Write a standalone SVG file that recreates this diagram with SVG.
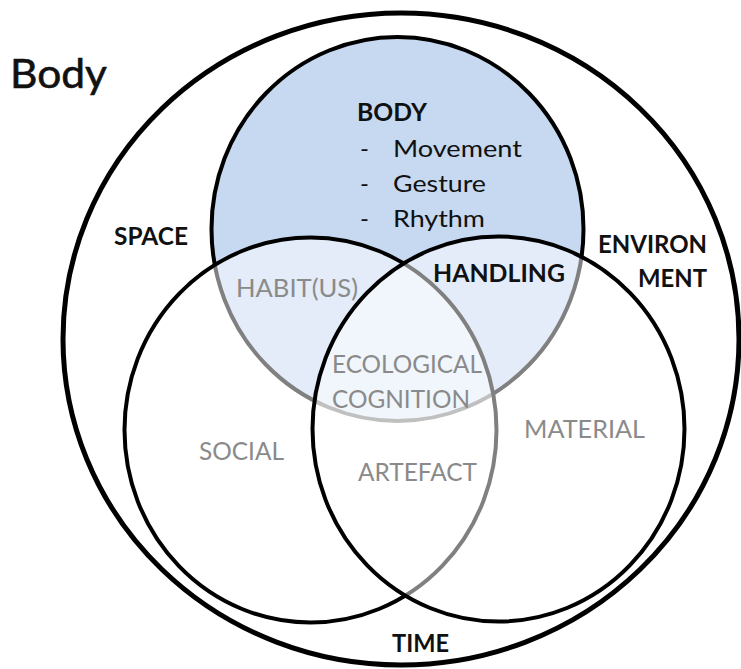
<svg xmlns="http://www.w3.org/2000/svg" width="741" height="669" viewBox="0 0 741 669">
  <style>
    .ring { fill: none; stroke: #000; stroke-width: 5; }
    .set { stroke: #000; stroke-width: 4; }
    .veil { fill: #fff; fill-opacity: 0.5; }
    text { font-family: Lato, "Liberation Sans", sans-serif; }
    .dark { fill: #111; }
    .soft { fill: #8a8a8a; }
    .bold { font-weight: bold; }
  </style>

  <rect width="741" height="669" fill="#fff"/>

  <!-- outer frame -->
  <g id="frame">
    <ellipse class="ring" cx="401" cy="339" rx="338" ry="326"/>
    <text x="10" y="88" font-size="40" class="dark" textLength="97" lengthAdjust="spacingAndGlyphs" stroke="#111" stroke-width="0.6">Body</text>
    <text x="114" y="245" font-size="25" class="dark bold" textLength="74" lengthAdjust="spacingAndGlyphs">SPACE</text>
    <text x="598" y="253" font-size="25" class="dark bold" textLength="109" lengthAdjust="spacingAndGlyphs">ENVIRON</text>
    <text x="638" y="287" font-size="25" class="dark bold" textLength="69" lengthAdjust="spacingAndGlyphs">MENT</text>
    <text x="392" y="652" font-size="25" class="dark bold" textLength="57" lengthAdjust="spacingAndGlyphs">TIME</text>
  </g>

  <!-- body set -->
  <g id="body">
    <ellipse class="set" cx="397.5" cy="229" rx="186" ry="192" fill="#c6d9f0"/>
  </g>

  <!-- social set, half-transparent so what lies below shows through -->
  <g id="social">
    <ellipse class="set veil" cx="310.5" cy="430" rx="186" ry="192.5"/>
  </g>

  <!-- material set -->
  <g id="material">
    <ellipse class="set veil" cx="498.5" cy="429" rx="186" ry="192.5"/>
  </g>

  <!-- labels -->
  <g id="body-label">
    <text x="357" y="121" font-size="25" class="dark bold" textLength="70" lengthAdjust="spacingAndGlyphs">BODY</text>
    <text x="360" y="157" font-size="24" class="dark">-</text>
    <text x="393" y="157" font-size="24" class="dark" textLength="129" lengthAdjust="spacingAndGlyphs">Movement</text>
    <text x="360" y="192" font-size="24" class="dark">-</text>
    <text x="393" y="192" font-size="24" class="dark" textLength="93" lengthAdjust="spacingAndGlyphs">Gesture</text>
    <text x="360" y="227" font-size="24" class="dark">-</text>
    <text x="393" y="227" font-size="24" class="dark" textLength="92" lengthAdjust="spacingAndGlyphs">Rhythm</text>
  </g>
  <g id="habitus">
    <text x="236" y="297" font-size="25" class="soft" textLength="122" lengthAdjust="spacingAndGlyphs">HABIT(US)</text>
  </g>
  <g id="handling">
    <text x="433" y="282" font-size="25" class="dark bold" textLength="132" lengthAdjust="spacingAndGlyphs">HANDLING</text>
  </g>
  <g id="ecological-cognition">
    <text x="332" y="373" font-size="25" class="soft" textLength="150" lengthAdjust="spacingAndGlyphs">ECOLOGICAL</text>
    <text x="332" y="408" font-size="25" class="soft" textLength="138" lengthAdjust="spacingAndGlyphs">COGNITION</text>
  </g>
  <g id="social-label">
    <text x="199" y="460" font-size="25" class="soft" textLength="85" lengthAdjust="spacingAndGlyphs">SOCIAL</text>
  </g>
  <g id="artefact">
    <text x="358" y="481" font-size="25" class="soft" textLength="119" lengthAdjust="spacingAndGlyphs">ARTEFACT</text>
  </g>
  <g id="material-label">
    <text x="524" y="438" font-size="25" class="soft" textLength="121" lengthAdjust="spacingAndGlyphs">MATERIAL</text>
  </g>

  <g id="connectors"/>
</svg>
